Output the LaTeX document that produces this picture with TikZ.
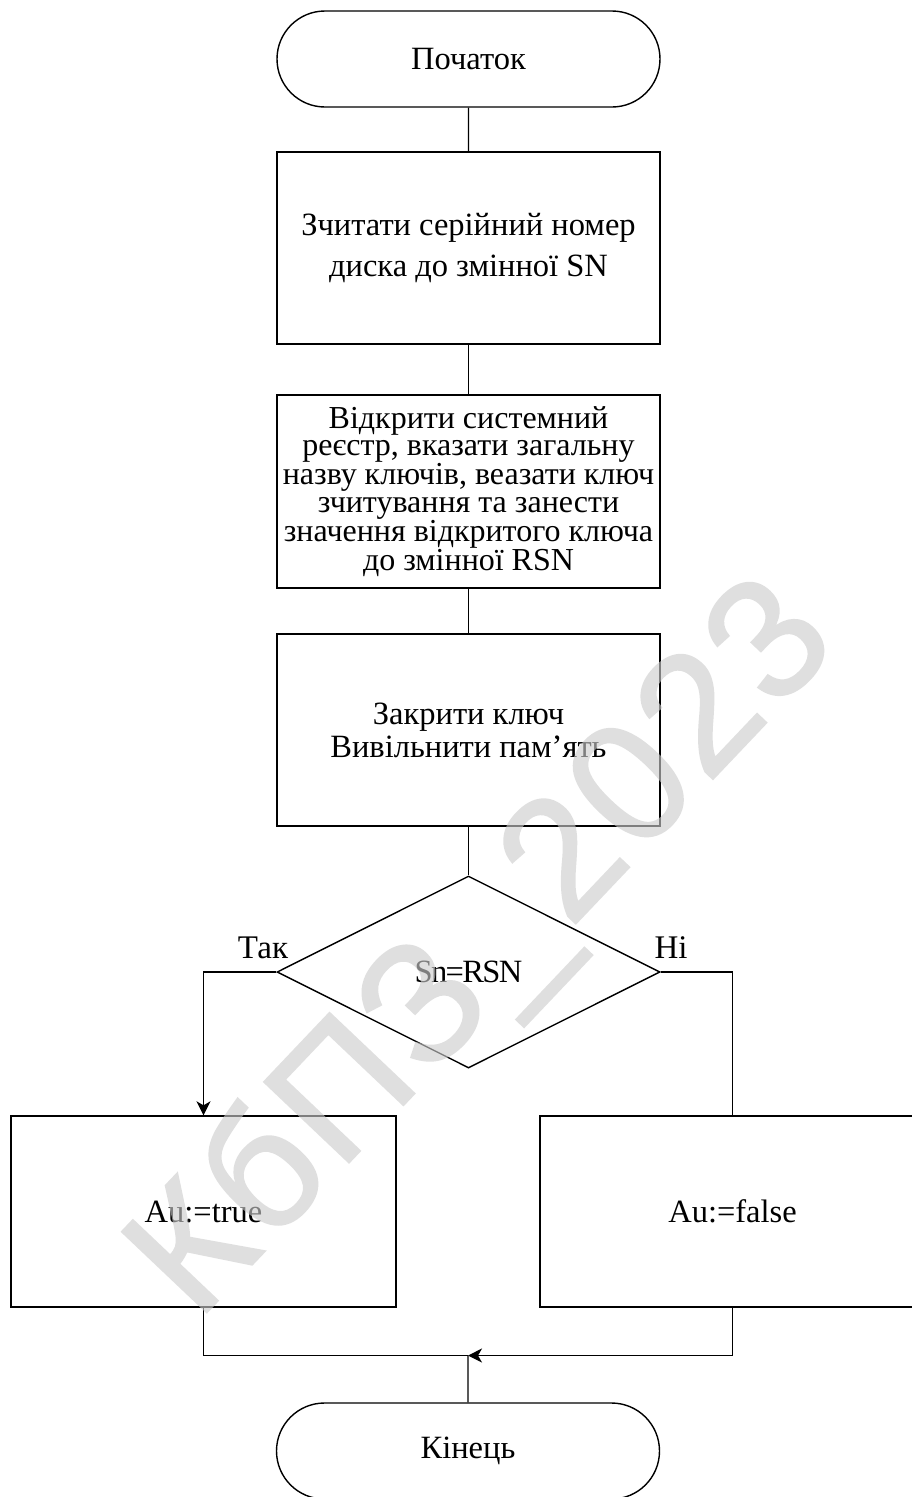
\documentclass[tikz,border=0pt]{standalone}
\usepackage{fontspec}
\setmainfont{Liberation Serif}
\newfontfamily\wmfont[FakeBold=1.2]{Liberation Sans}
\usetikzlibrary{shapes.geometric,shapes.misc,arrows.meta}
\tikzset{
  base/.style={draw=black, line width=1.4pt, align=center, inner sep=0pt,
    font=\fontsize{32.5}{37}\selectfont},
  term/.style={base, rounded rectangle, minimum width=383pt, minimum height=96pt},
  procbox/.style={base, rectangle, minimum width=383pt, minimum height=192pt},
  wide/.style={base, rectangle, minimum width=385pt, minimum height=191pt},
  decbox/.style={base, diamond, minimum width=383pt, minimum height=192pt},
  conn/.style={draw=black, line width=1.4pt},
  arr/.style={conn, -{Stealth[length=14pt, width=14pt, inset=4pt]}},
  lbl/.style={font=\fontsize{33}{37}\selectfont, inner sep=0pt}
}
\begin{document}
\begin{tikzpicture}[x=1pt,y=-1pt]
\useasboundingbox (0,0) rectangle (912,1497);
\fill[white] (0,0) rectangle (912,1497);
\node[term] (start) at (468.5,59) {Початок};
\node[procbox, font=\fontsize{32.5}{41}\selectfont] (b1) at (468.5,248) {Зчитати серійний номер\\диска до змінної SN};
\node[procbox, minimum height=193pt, font=\fontsize{32}{27.5}\selectfont] (b2) at (468.5,491.5) {Відкрити системний\\реєстр, вказати загальну\\назву ключів, веазати ключ\\зчитування та занести\\значення відкритого ключа\\до змінної RSN};
\node[procbox, font=\fontsize{32.5}{33}\selectfont] (b3) at (468.5,730) {Закрити ключ\\Вивільнити пам’ять};
\node[decbox, font=\fontsize{32.5}{37}\selectfont\addfontfeature{LetterSpace=-5}] (dec) at (468.5,972) {Sn=RSN};
\node[wide] (b4) at (203.5,1211.5) {Au:=true};
\node[wide] (b5) at (732.5,1211.5) {Au:=false};
\node[term] (end) at (468,1451) {Кінець};
\coordinate (j) at (468,1355.5);
\node[lbl] (yes) at (263,948) {Так};
\node[lbl] (no) at (671,948) {Ні};
\draw[conn] (start) -- (b1);
\draw[conn] (b1) -- (b2);
\draw[conn] (b2) -- (b3);
\draw[conn] (b3) -- (dec);
\draw[arr] (dec.west) -| (b4.north);
\draw[conn] (dec.east) -| (b5.north);
\draw[conn] (b4.south) |- (j);
\draw[arr] (b5.south) |- (j);
\draw[conn] (j) -- (end);
\begin{scope}[transparency group, opacity=0.62]
\node[rotate=46.5, text=black!20, font=\wmfont\fontsize{170}{170}\selectfont\addfontfeature{LetterSpace=3}, inner sep=0pt] (wm) at (486,952) {КбПЗ\_2023};
\end{scope}
\end{tikzpicture}
\end{document}
